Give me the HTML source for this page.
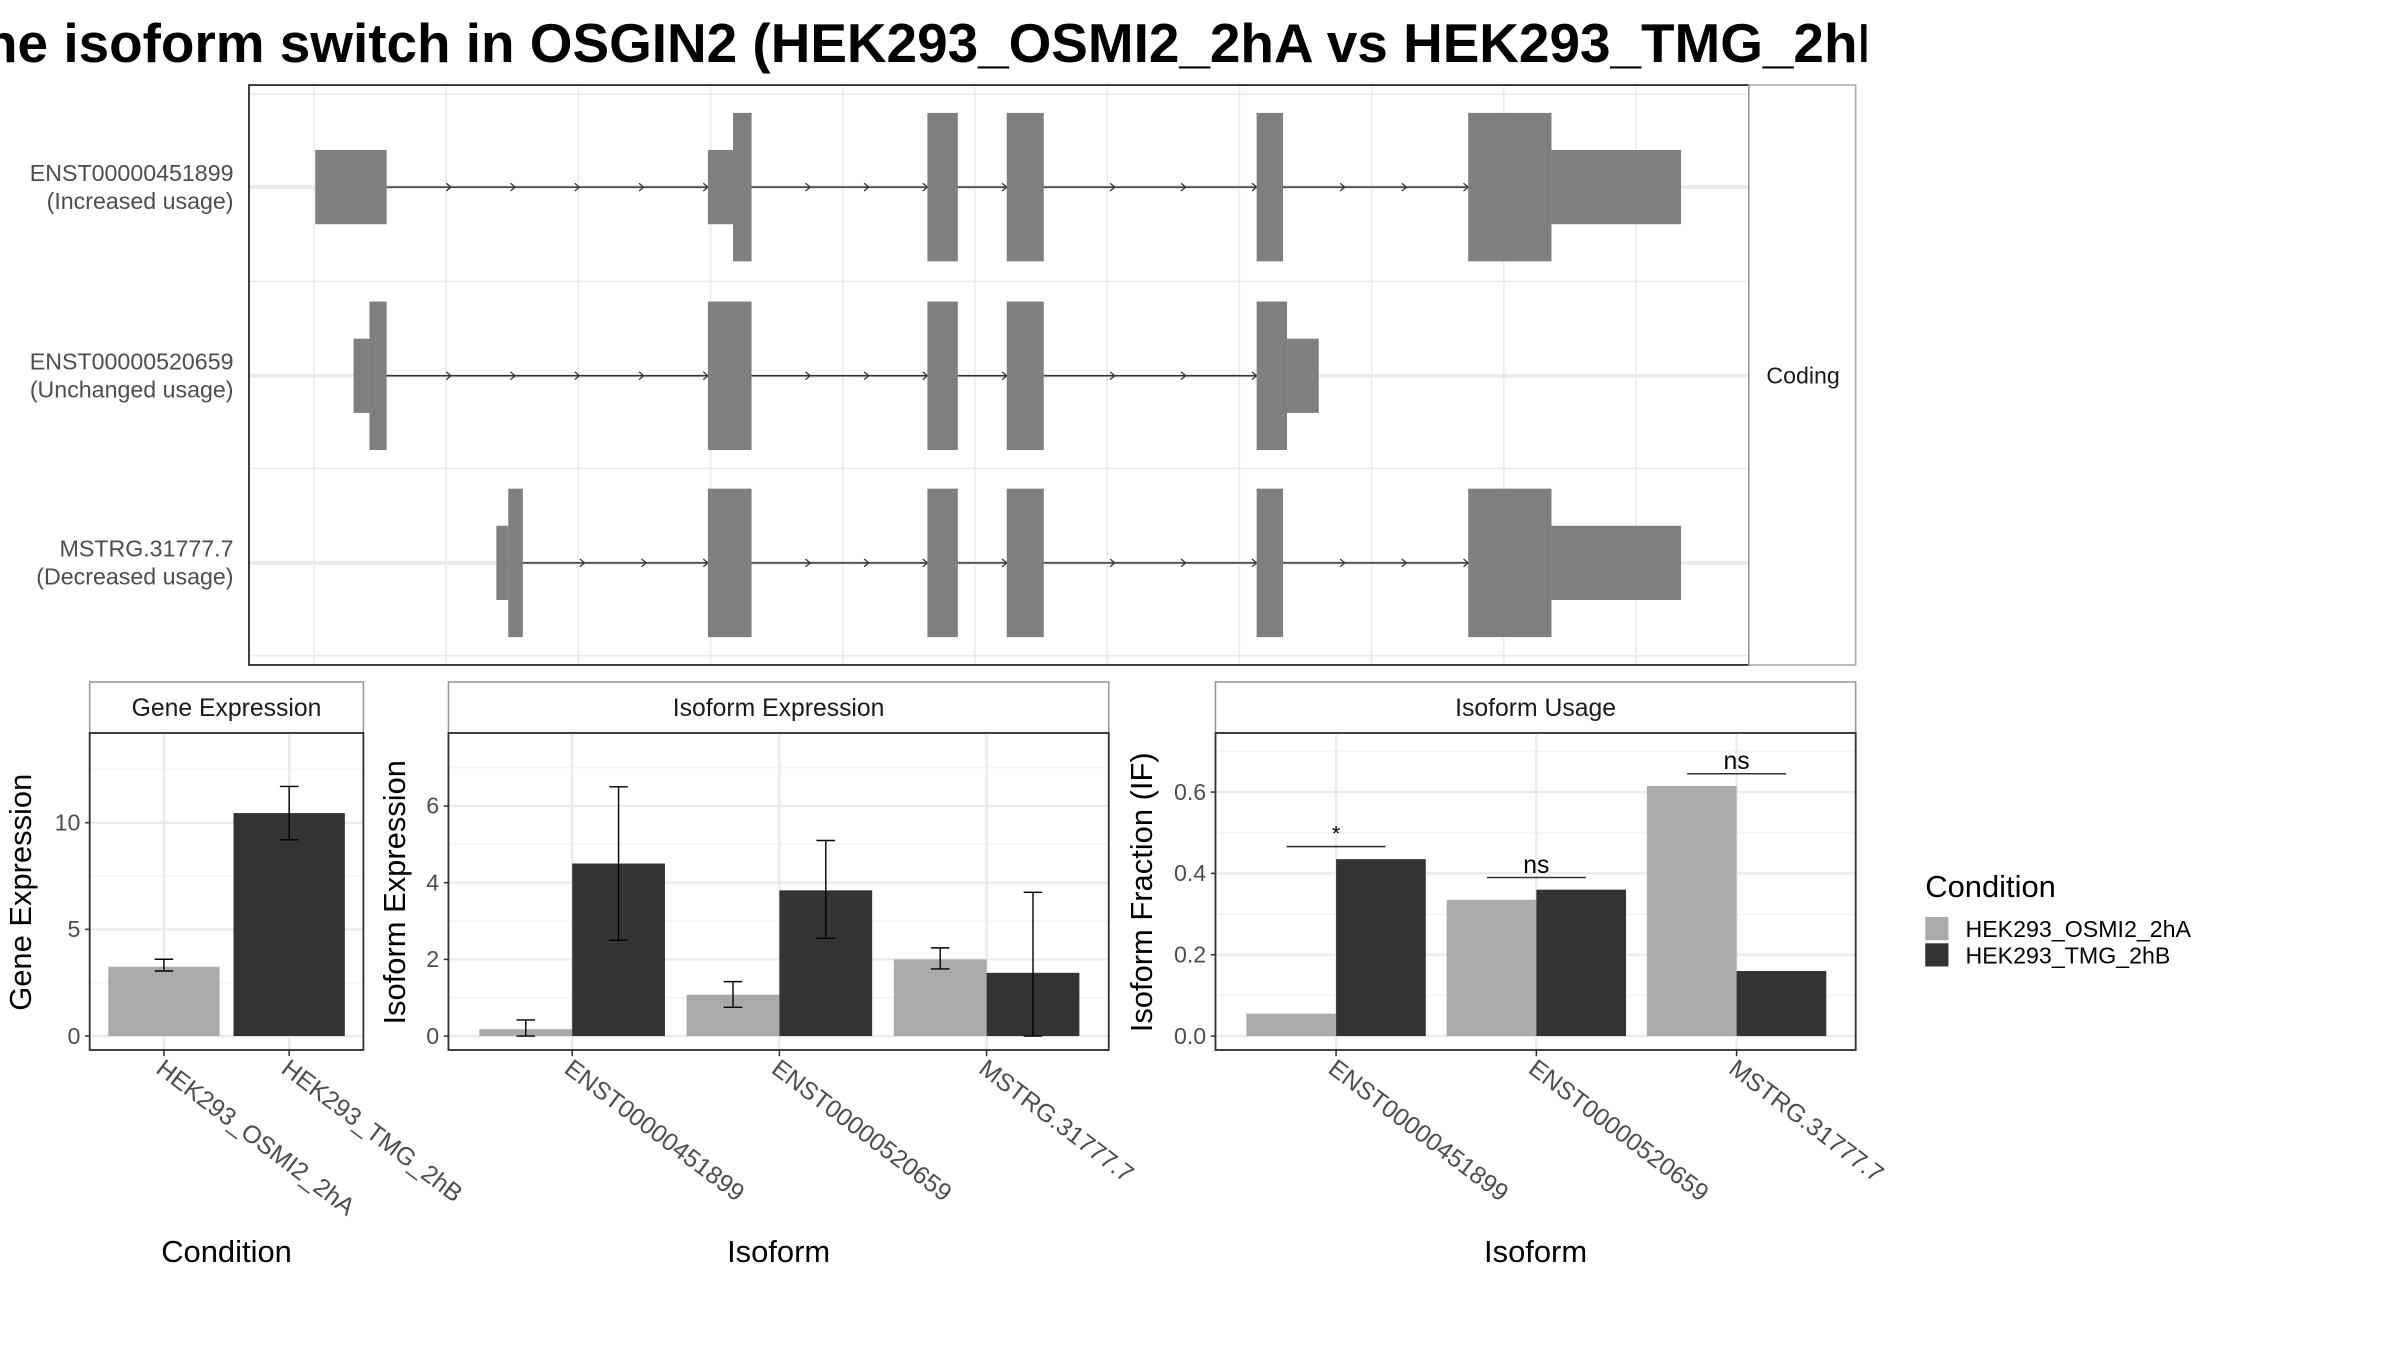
<!DOCTYPE html>
<html><head><meta charset="utf-8"><style>
html,body{margin:0;padding:0;background:#fff}
svg{display:block;font-family:"Liberation Sans",sans-serif}
</style></head><body>
<svg id="c" width="2400" height="1350" viewBox="0 0 1552 873" preserveAspectRatio="none">
<defs><clipPath id="tc"><rect x="0" y="0" width="1207" height="60"/></clipPath></defs>
<text x="-32" y="40" font-size="35.5" font-weight="bold" fill="#000" clip-path="url(#tc)">The isoform switch in OSGIN2 (HEK293_OSMI2_2hA vs HEK293_TMG_2hB)</text>
<g id="topPanel"></g>
<g id="bottomPanels"></g>
</svg>
<script>
// ---------- gene structure data (genomic units, arbitrary kb) ----------
const txNames = ["ENST00000451899","ENST00000520659","MSTRG.31777.7"];
const txUsage = ["(Increased usage)","(Unchanged usage)","(Decreased usage)"];
// exons: [start, end, type] type: 'c' coding (tall), 'u' UTR (short)
const tx1Exons = [[0.01,0.55,'u'],[2.98,3.17,'u'],[3.17,3.31,'c'],[4.64,4.87,'c'],[5.24,5.52,'c'],[7.13,7.33,'c'],[8.73,9.36,'c'],[9.36,10.34,'u']];
const tx2Exons = [[0.30,0.42,'u'],[0.42,0.55,'c'],[2.98,3.31,'c'],[4.64,4.87,'c'],[5.24,5.52,'c'],[7.13,7.36,'c'],[7.36,7.60,'u']];
const tx3Exons = [[1.38,1.47,'u'],[1.47,1.58,'c'],[2.98,3.31,'c'],[4.64,4.87,'c'],[5.24,5.52,'c'],[7.13,7.33,'c'],[8.73,9.36,'c'],[9.36,10.34,'u']];
const genomeTicks = [0,1,2,3,4,5,6,7,8,9,10];
// ---------- bar chart data ----------
const conditions = ["HEK293_OSMI2_2hA","HEK293_TMG_2hB"];
const geneExpr = [3.25,10.45];
const geneLo = [3.05,9.2];
const geneHi = [3.6,11.7];
const isoforms = ["ENST00000451899","ENST00000520659","MSTRG.31777.7"];
const isoExprA = [0.18,1.08,2.0];
const isoExprB = [4.5,3.8,1.65];
const isoLoA = [0.0,0.75,1.75];
const isoHiA = [0.42,1.42,2.3];
const isoLoB = [2.5,2.55,0.0];
const isoHiB = [6.5,5.1,3.75];
const ifA = [0.055,0.335,0.615];
const ifB = [0.435,0.36,0.16];
const sigLabels = ["*","ns","ns"];
const sigY = [0.466,0.39,0.645];
const geneTicks = [0,5,10];
const isoTicks = [0,2,4,6];
const ifTicks = [0.0,0.2,0.4,0.6];
const ifTickLabels = ["0.0","0.2","0.4","0.6"];

const NS="http://www.w3.org/2000/svg";
function mk(parent,tag,attrs,text){const e=document.createElementNS(NS,tag);for(const k in attrs)e.setAttribute(k,attrs[k]);if(text!==undefined)e.textContent=text;parent.appendChild(e);return e;}
const LIGHT="#aaaaaa",DARK="#333333",GRID="#ebebeb",MINOR="#f5f5f5",TXT="#4d4d4d";
let el;

// ---------- top panel ----------
const topG=document.getElementById('topPanel');
const gx=g=>203+g*85.5;
const rowY=[121,243,364];
el=mk(topG,'rect',{x:161,y:55,width:970,height:375,fill:'#fff',stroke:'none'});


genomeTicks.forEach(t=>{el=mk(topG,'line',{x1:gx(t),x2:gx(t),y1:55,y2:430,stroke:GRID,'stroke-width':1});

});
[61,182,303,424].forEach(y=>{el=mk(topG,'line',{x1:161,x2:1131,y1:y,y2:y,stroke:GRID,'stroke-width':1});

});
rowY.forEach(y=>{el=mk(topG,'line',{x1:161,x2:1131,y1:y,y2:y,stroke:GRID,'stroke-width':2.5});

});
[tx1Exons,tx2Exons,tx3Exons].forEach((ex,i)=>{
  const y=rowY[i];
  const s=ex[0][1], e=ex[ex.length-1][0];
  const g=mk(topG,'g',{});
  
  
  el=mk(g,'line',{x1:gx(s),x2:gx(e),y1:y,y2:y,stroke:'#333',"stroke-width":1});
  
  
  for(let k=0;k<ex.length-1;k++){
    const a=ex[k][1],b=ex[k+1][0];
    if(b-a<0.3)continue;
    const n=Math.max(1,Math.round((b-a)/0.47));
    for(let j=1;j<=n;j++){
      const xx=gx(a)+(gx(b)-gx(a))*j/n;
      el=mk(g,'path',{d:`M${xx-3},${y-2.5}L${xx},${y}L${xx-3},${y+2.5}`,stroke:'#333',fill:'none','stroke-width':0.8});
      
      
    }
  }
  ex.forEach(x=>{
    const h=x[2]==='c'?48:24;
    el=mk(g,'rect',{x:gx(x[0]),y:y-h,width:gx(x[1])-gx(x[0]),height:2*h,fill:'#7f7f7f'});
    
    
  });
  el=mk(topG,'text',{x:151,y:y-4,'text-anchor':'end','font-size':15,fill:TXT},txNames[i]);
  
  
  el=mk(topG,'text',{x:151,y:y+14,'text-anchor':'end','font-size':15,fill:TXT},txUsage[i]);
  
  
});
el=mk(topG,'rect',{x:161,y:55,width:970,height:375,fill:'none',stroke:'#333','stroke-width':1.2});


el=mk(topG,'rect',{x:1131,y:55,width:69,height:375,fill:'#fff',stroke:'#aaa','stroke-width':1});


el=mk(topG,'text',{x:1166,y:248,'text-anchor':'middle','font-size':15,fill:'#1a1a1a'},'Coding');



// ---------- bottom panels ----------
const botG=document.getElementById('bottomPanels');
function panel(o){
  const g=mk(botG,'g',{});
  
  
  const x0=o.x0,x1=o.x1,y0=474,y1=679,base=670;
  const ys=v=>base-v*o.k;
  el=mk(g,'rect',{x:x0,y:441,width:x1-x0,height:33,fill:'#fff',stroke:'#999'});
  
  
  el=mk(g,'text',{x:(x0+x1)/2,y:463,'text-anchor':'middle','font-size':16,fill:'#1a1a1a'},o.title);
  
  
  const step=o.ticks[1]-o.ticks[0];
  for(let i=0;i<o.ticks.length;i++){
    const yy=ys(o.ticks[i]+step/2);
    if(yy>y0){el=mk(g,'line',{x1:x0,x2:x1,y1:yy,y2:yy,stroke:MINOR,'stroke-width':1});
      
      }
  }
  o.ticks.forEach((t,i)=>{const yy=ys(t);
    el=mk(g,'line',{x1:x0,x2:x1,y1:yy,y2:yy,stroke:GRID,'stroke-width':1.5});
    
    
    el=mk(g,'line',{x1:x0-3,x2:x0,y1:yy,y2:yy,stroke:'#333'});
    
    
    el=mk(g,'text',{x:x0-6,y:yy+5,'text-anchor':'end','font-size':15,fill:TXT},o.tickLabels?o.tickLabels[i]:String(t));
    
    
  });
  o.cats.forEach((c,i)=>{const cx=o.cx(i);
    el=mk(g,'line',{x1:cx,x2:cx,y1:y0,y2:y1,stroke:GRID,'stroke-width':1.5});
    
    
  });
  o.draw(g,ys);
  el=mk(g,'rect',{x:x0,y:y0,width:x1-x0,height:y1-y0,fill:'none',stroke:'#333','stroke-width':1.2});
  
  
  o.cats.forEach((c,i)=>{const cx=o.cx(i);
    el=mk(g,'line',{x1:cx,x2:cx,y1:y1,y2:y1+4,stroke:'#333'});
    
    
    el=mk(g,'text',{x:cx-6,y:y1+14,'font-size':16,fill:TXT,transform:`rotate(37 ${cx-6} ${y1+14})`},c);
    
    
  });
  el=mk(g,'text',{x:(x0+x1)/2,y:816,'text-anchor':'middle','font-size':20,fill:'#000'},o.xt);
  
  
  el=mk(g,'text',{x:o.ytx,y:577,'text-anchor':'middle','font-size':20,fill:'#000',transform:`rotate(-90 ${o.ytx} 577)`},o.yt);
  
  
}
function bar(g,x,w,v,ys,fill){el=mk(g,'rect',{x:x,y:ys(v),width:w,height:ys(0)-ys(v),fill:fill});
  
  }
function err(g,cx,lo,hi,ys){const d=`M${cx-6},${ys(lo)}H${cx+6}M${cx},${ys(lo)}V${ys(hi)}M${cx-6},${ys(hi)}H${cx+6}`;
  el=mk(g,'path',{d:d,stroke:'#000',fill:'none','stroke-width':0.9});
  
  }

panel({name:'gene-expression-panel',x0:58,x1:235,k:13.8,ticks:geneTicks,cats:conditions,cx:i=>106+i*81,title:'Gene Expression',xt:'Condition',yt:'Gene Expression',ytx:20,
  draw:(g,ys)=>{geneExpr.forEach((v,i)=>{const cx=106+i*81;bar(g,cx-36,72,v,ys,i?DARK:LIGHT);err(g,cx,geneLo[i],geneHi[i],ys);});}});
panel({name:'isoform-expression-panel',x0:290,x1:717,k:24.8,ticks:isoTicks,cats:isoforms,cx:i=>370+i*134,title:'Isoform Expression',xt:'Isoform',yt:'Isoform Expression',ytx:262,
  draw:(g,ys)=>{isoforms.forEach((c,i)=>{const cx=370+i*134;
    bar(g,cx-60,60,isoExprA[i],ys,LIGHT);bar(g,cx,60,isoExprB[i],ys,DARK);
    err(g,cx-30,isoLoA[i],isoHiA[i],ys);err(g,cx+30,isoLoB[i],isoHiB[i],ys);});}});
panel({name:'isoform-usage-panel',x0:786,x1:1200,k:263,ticks:ifTicks,tickLabels:ifTickLabels,cats:isoforms,cx:i=>864+i*129.5,title:'Isoform Usage',xt:'Isoform',yt:'Isoform Fraction (IF)',ytx:745,
  draw:(g,ys)=>{isoforms.forEach((c,i)=>{const cx=864+i*129.5;
    bar(g,cx-58,58,ifA[i],ys,LIGHT);bar(g,cx,58,ifB[i],ys,DARK);
    el=mk(g,'line',{x1:cx-32,x2:cx+32,y1:ys(sigY[i]),y2:ys(sigY[i]),stroke:'#333','stroke-width':1});
    
    
    el=mk(g,'text',{x:cx,y:ys(sigY[i])-(sigLabels[i]==='*'?4:3),'text-anchor':'middle','font-size':sigLabels[i]==='*'?14:16,fill:'#000'},sigLabels[i]);
    
    });}});

// legend
const lg=mk(botG,'g',{});


el=mk(lg,'text',{x:1245,y:580,'font-size':20,fill:'#000'},'Condition');


conditions.forEach((c,i)=>{
  el=mk(lg,'rect',{x:1245,y:593+i*17,width:15,height:15,fill:i?DARK:LIGHT});
  
  
  el=mk(lg,'text',{x:1271,y:606+i*17,'font-size':15,fill:'#000'},c);
  
  
});
</script>
</body></html>
